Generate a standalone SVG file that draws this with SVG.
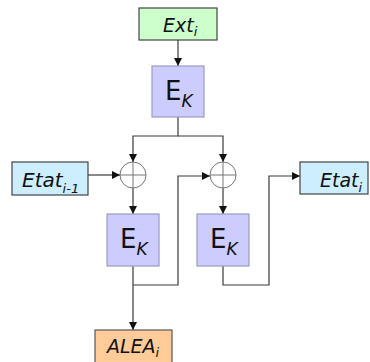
<svg xmlns="http://www.w3.org/2000/svg" width="370" height="362" viewBox="0 0 370 362">
<style>
.t{font-family:"DejaVu Sans","Liberation Sans",sans-serif;fill:#111}
.it{font-style:italic}
.c{fill:none;stroke:#3a3a3a;stroke-width:1.2}
.x{fill:#fff;stroke:#777;stroke-width:1}
.ek{fill:#ccccff;stroke:#9a9ac0;stroke-width:1.2}
</style>
<defs>
<marker id="a" markerUnits="userSpaceOnUse" markerWidth="9" markerHeight="9" refX="8" refY="4" orient="auto">
<path d="M0,0 L8,4 L0,8 z" fill="#111"/>
</marker>
</defs>
<rect width="370" height="362" fill="#fff"/>
<g id="connectors">
<path class="c" d="M178,40 V66" marker-end="url(#a)"/>
<path class="c" d="M178,117 V136 H133 V162" marker-end="url(#a)"/>
<path class="c" d="M178,136 H223 V162" marker-end="url(#a)"/>
<path class="c" d="M88,175 H120" marker-end="url(#a)"/>
<path class="c" d="M133,188 V214" marker-end="url(#a)"/>
<path class="c" d="M133,266 V330" marker-end="url(#a)"/>
<path class="c" d="M133,285 H178 V176 H210" marker-end="url(#a)"/>
<path class="c" d="M223,188 V214" marker-end="url(#a)"/>
<path class="c" d="M223,266 V285 H269 V176 H300" marker-end="url(#a)"/>
</g>
<g id="ext">
<rect x="139" y="8" width="78" height="32" fill="#ccffcc" stroke="#444" stroke-width="1.2"/>
<text class="t it" x="163" y="32" font-size="19">Ext<tspan font-size="13" dy="4">i</tspan></text>
</g>
<g id="ek1">
<rect class="ek" x="152" y="66" width="52" height="51"/>
<text class="t" x="165" y="100" font-size="26">E<tspan class="it" font-size="17" dy="7">K</tspan></text>
</g>
<g id="xor1">
<circle class="x" cx="133" cy="175" r="13"/>
<path d="M120,175 H146 M133,162 V188" stroke="#777" stroke-width="1"/>
</g>
<g id="xor2">
<circle class="x" cx="223" cy="175" r="13"/>
<path d="M210,175 H236 M223,162 V188" stroke="#777" stroke-width="1"/>
</g>
<g id="etat-prev">
<rect x="12" y="162" width="76" height="33" fill="#cceeff" stroke="#444" stroke-width="1.2"/>
<text class="t it" x="22" y="187" font-size="20">Etat<tspan font-size="13" dy="6">i-1</tspan></text>
</g>
<g id="etat">
<rect x="300" y="162" width="68" height="32" fill="#cceeff" stroke="#444" stroke-width="1.2"/>
<text class="t it" x="320" y="187" font-size="19">Etat<tspan font-size="13" dy="5">i</tspan></text>
</g>
<g id="ek2">
<rect class="ek" x="107" y="214" width="52" height="52"/>
<text class="t" x="120" y="248" font-size="26">E<tspan class="it" font-size="17" dy="7">K</tspan></text>
</g>
<g id="ek3">
<rect class="ek" x="197" y="214" width="52" height="52"/>
<text class="t" x="210" y="248" font-size="26">E<tspan class="it" font-size="17" dy="7">K</tspan></text>
</g>
<g id="alea">
<rect x="95" y="330" width="77" height="36" fill="#ffcc99" stroke="#555" stroke-width="1.2"/>
<text class="t it" x="107" y="353" font-size="19">ALEA<tspan font-size="13" dy="4">i</tspan></text>
</g>
</svg>
